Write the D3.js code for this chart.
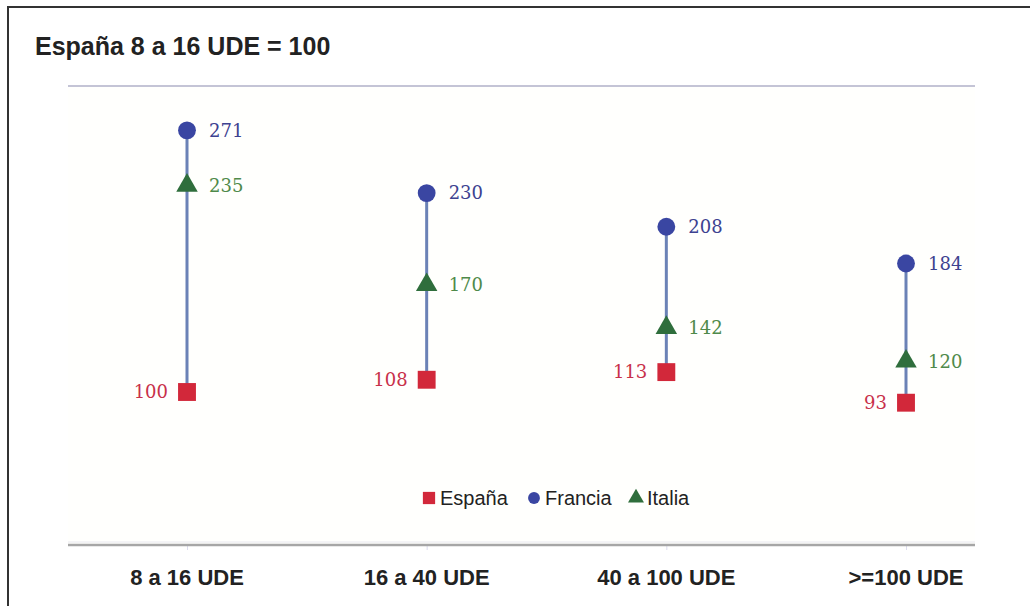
<!DOCTYPE html>
<html>
<head>
    <meta charset="utf-8">
    <title>España 8 a 16 UDE = 100</title>
    <script src="https://d3js.org/d3.v7.min.js"></script>
    <style>
        body {
            margin: 0;
            background: #fff;
        }
        svg {
            display: block;
        }
        .title {
            font-family: "Liberation Sans", Arial, sans-serif;
            font-weight: bold;
            font-size: 25px;
            fill: #222;
        }
        .cat-label {
            font-family: "Liberation Sans", Arial, sans-serif;
            font-weight: bold;
            font-size: 22px;
            fill: #222;
        }
        .value {
            font-family: "DejaVu Serif", "Liberation Serif", serif;
            font-size: 18px;
        }
        .legend text {
            font-family: "Liberation Sans", Arial, sans-serif;
            font-size: 20px;
            fill: #222;
        }
    </style>
</head>
<body>
    <div id="chart"></div>

    <script>
        // data
        const categories = ["8 a 16 UDE", "16 a 40 UDE", "40 a 100 UDE", ">=100 UDE"];
        const espana  = [100, 108, 113, 93];
        const francia = [271, 230, 208, 184];
        const italia  = [235, 170, 142, 120];
        const seriesNames = ["España", "Francia", "Italia"];

        const width = 1030;
        const height = 606;
        const plot = {left: 68, right: 975, top: 86, bottom: 545};

        const svg = d3.select("#chart").append("svg")
            .attr("width", width)
            .attr("height", height);

        // outer frame (runs off the right and bottom edge)
        svg.append("rect")
            .attr("x", 8)
            .attr("y", 7)
            .attr("width", 1100)
            .attr("height", 700)
            .attr("fill", "none")
            .attr("stroke", "#333")
            .attr("stroke-width", 2);

        svg.append("text")
            .attr("class", "title")
            .attr("x", 35)
            .attr("y", 55)
            .text("España 8 a 16 UDE = 100");

        // faint plot background
        svg.append("rect")
            .attr("x", plot.left)
            .attr("y", plot.top)
            .attr("width", plot.right - plot.left)
            .attr("height", plot.bottom - plot.top)
            .attr("fill", "#fffffd");

        const x = d3.scalePoint()
            .domain(categories)
            .range([187, 906]);

        const y = d3.scaleLinear()
            .domain([0, 300])
            .range([plot.bottom, plot.top]);

        // top gridline
        svg.append("line")
            .attr("x1", plot.left).attr("x2", plot.right)
            .attr("y1", y(300)).attr("y2", y(300))
            .attr("stroke", "#c4c4d6")
            .attr("stroke-width", 2);

        // x axis
        const xAxis = svg.append("g")
            .attr("transform", `translate(0,${plot.bottom})`)
            .call(d3.axisBottom(x).tickSize(5).tickFormat(""));
        xAxis.select(".domain").remove();
        xAxis.selectAll(".tick line").attr("stroke", "#dde").attr("stroke-width", 1);

        svg.append("line")
            .attr("x1", plot.left).attr("x2", plot.right)
            .attr("y1", plot.bottom - 3).attr("y2", plot.bottom - 3)
            .attr("stroke", "#e8e8ee")
            .attr("stroke-width", 1);
        svg.append("line")
            .attr("x1", plot.left).attr("x2", plot.right)
            .attr("y1", plot.bottom).attr("y2", plot.bottom)
            .attr("stroke", "#a6a6a6")
            .attr("stroke-width", 2.5);

        svg.selectAll(".cat-label")
            .data(categories)
            .enter()
            .append("text")
            .attr("class", "cat-label")
            .attr("x", d => x(d))
            .attr("y", 585)
            .attr("text-anchor", "middle")
            .text(d => d);

        const rows = categories.map((c, i) => ({
            cat: c, espana: espana[i], francia: francia[i], italia: italia[i]
        }));

        // connecting lines
        svg.selectAll(".range")
            .data(rows)
            .enter()
            .append("line")
            .attr("class", "range")
            .attr("x1", d => x(d.cat))
            .attr("x2", d => x(d.cat))
            .attr("y1", d => y(d3.max([d.espana, d.francia, d.italia])))
            .attr("y2", d => y(d3.min([d.espana, d.francia, d.italia])))
            .attr("stroke", "#6b82b6")
            .attr("stroke-width", 3);

        const colors = {
            espana: "#d2283a",
            francia: "#3a46a2",
            italia: "#2f6e3c"
        };
        const labelColors = {
            espana: "#c8304a",
            francia: "#3d4290",
            italia: "#4f8a4a"
        };

        const symbols = {
            espana: d3.symbol().type(d3.symbolSquare).size(320),
            francia: d3.symbol().type(d3.symbolCircle).size(250),
            italia: d3.symbol().type(d3.symbolTriangle).size(200)
        };

        ["italia", "francia", "espana"].forEach(key => {
            svg.selectAll(".m-" + key)
                .data(rows)
                .enter()
                .append("path")
                .attr("class", "m-" + key)
                .attr("transform", d => `translate(${x(d.cat)},${y(d[key])})`)
                .attr("d", symbols[key]())
                .attr("fill", colors[key]);

            svg.selectAll(".v-" + key)
                .data(rows)
                .enter()
                .append("text")
                .attr("class", "value")
                .attr("x", d => x(d.cat) + (key === "espana" ? -19 : 22))
                .attr("y", d => y(d[key]))
                .attr("dy", "0.35em")
                .attr("text-anchor", key === "espana" ? "end" : "start")
                .attr("fill", labelColors[key])
                .text(d => d[key]);
        });

        // legend
        const legendItems = [
            {name: seriesNames[0], key: "espana", x: 429},
            {name: seriesNames[1], key: "francia", x: 534},
            {name: seriesNames[2], key: "italia", x: 636}
        ];
        const legend = svg.append("g")
            .attr("class", "legend")
            .attr("transform", "translate(0,498)");

        const li = legend.selectAll("g")
            .data(legendItems)
            .enter()
            .append("g")
            .attr("transform", d => `translate(${d.x},0)`);

        li.append("path")
            .attr("d", d => d3.symbol().type(
                d.key === "espana" ? d3.symbolSquare :
                d.key === "francia" ? d3.symbolCircle : d3.symbolTriangle
            ).size(d.key === "espana" ? 150 : 110)())
            .attr("fill", d => colors[d.key]);

        li.append("text")
            .attr("x", 11)
            .attr("y", 0)
            .attr("dy", "0.35em")
            .text(d => d.name);
    </script>
</body>
</html>
